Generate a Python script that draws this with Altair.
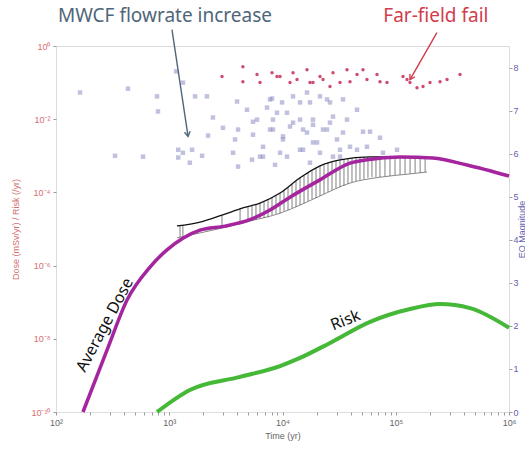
import altair as alt
import pandas as pd

# ---- Average dose (mSv/yr) ----
dose_time = [173, 282, 424, 676, 955, 1320, 1870, 3100, 5160, 7760, 11650,
             21400, 39500, 55700, 109000, 213000, 426000, 1000000]
dose_value = [1e-10, 4.9e-9, 1.15e-7, 9.1e-7, 2.7e-6, 5.6e-6, 9.3e-6, 1.2e-5,
              1.8e-5, 3.3e-5, 7.4e-5, 2.2e-4, 6.3e-4, 7.8e-4, 9.3e-4, 8.7e-4,
              5.6e-4, 2.8e-4]

# ---- Risk (/yr) ----
risk_time = [780, 1520, 4220, 9510, 14290, 26260, 59300, 133600, 246000,
             453000, 1000000]
risk_value = [1e-10, 4.0e-10, 9.1e-10, 1.8e-9, 3.0e-9, 7.7e-9, 2.9e-8,
              6.5e-8, 8.9e-8, 6.9e-8, 2.0e-8]

# ---- Realisation band (individual dose histories) ----
band_up_time = [1170, 1870, 2920, 4470, 6330, 9510, 14290, 21440, 32180,
                59300, 133800, 181700]
band_up_value = [1.21e-5, 1.55e-5, 2.4e-5, 3.75e-5, 5.1e-5, 9.6e-5, 2.5e-4,
                 5.3e-4, 7.7e-4, 9.3e-4, 9.3e-4, 8.7e-4]
band_lo_time = [1170, 1870, 2920, 5160, 9510, 14290, 21440, 39460, 72540,
                133800, 188800]
band_lo_value = [5.7e-6, 7.8e-6, 1.06e-5, 1.65e-5, 2.7e-5, 4.5e-5, 8.0e-5,
                 1.8e-4, 2.6e-4, 3.2e-4, 3.6e-4]

hatch_time = [1245, 1320, 2920, 4220, 4960, 5380, 5830, 6330, 6870, 7450,
              8080, 8760, 9510, 10310, 11190, 12140, 13160, 14290, 15490,
              16800, 18220, 19770, 21440, 23250, 25220, 27360, 29670, 32180,
              34900, 37860, 41070, 44540, 48310, 52400, 56840, 61650, 66870,
              72540, 80330, 88960, 98520, 109100, 120800, 133800, 148200,
              164100, 181700]
hatch_low = [6.0e-6, 6.4e-6, 1.06e-5, 1.37e-5, 1.55e-5, 1.65e-5, 1.76e-5,
             1.9e-5, 2.0e-5, 2.1e-5, 2.4e-5, 2.6e-5, 2.7e-5, 3.1e-5, 3.3e-5,
             3.75e-5, 4.0e-5, 4.5e-5, 5.1e-5, 5.8e-5, 6.6e-5, 7.0e-5, 8.0e-5,
             9.0e-5, 1.03e-4, 1.16e-4, 1.3e-4, 1.4e-4, 1.5e-4, 1.7e-4, 1.9e-4,
             2.05e-4, 2.2e-4, 2.3e-4, 2.5e-4, 2.6e-4, 2.6e-4, 2.6e-4, 2.8e-4,
             2.8e-4, 3.0e-4, 3.0e-4, 3.2e-4, 3.2e-4, 3.4e-4, 3.4e-4, 3.6e-4]
hatch_high = [1.25e-5, 1.29e-5, 2.4e-5, 3.5e-5, 4.2e-5, 4.5e-5, 4.8e-5,
              5.1e-5, 5.8e-5, 6.6e-5, 7.5e-5, 8.5e-5, 9.6e-5, 1.16e-4, 1.4e-4,
              1.7e-4, 2.05e-4, 2.5e-4, 2.8e-4, 3.4e-4, 3.8e-4, 4.6e-4, 5.3e-4,
              5.6e-4, 6.4e-4, 6.8e-4, 7.2e-4, 7.7e-4, 8.2e-4, 8.2e-4, 8.7e-4,
              8.7e-4, 8.7e-4, 9.3e-4, 9.3e-4, 9.3e-4, 9.3e-4, 9.3e-4, 9.3e-4,
              9.3e-4, 9.3e-4, 9.3e-4, 9.3e-4, 9.3e-4, 9.3e-4, 8.7e-4, 8.7e-4]

# ---- Earthquake events (time, magnitude) ----
eq_time = [163, 332, 432, 587, 780, 795, 1150, 1200, 1200, 1320, 1320, 1520,
           1590, 1690, 1950, 2150, 2200, 2430, 2980, 3660, 3810, 3970, 4050,
           4050, 4860, 5380, 5490, 5490, 5960, 6330, 6730, 6730, 7300, 7760,
           7760, 8080, 8240, 8240, 8590, 8940, 9510, 9910, 10100, 10100,
           10960, 10960, 11650, 12390, 12390, 14290, 14290, 14290, 15180,
           15180, 16450, 16450, 17490, 17490, 18590, 18590, 20180, 21440,
           21440, 22790, 24720, 24720, 26260, 26260, 27920, 27920, 30280,
           32180, 32180, 34210, 34210, 37120, 39460, 45500, 45500, 51400,
           55700, 59300, 72600, 77100, 102600, 18590]
eq_mag = [7.42, 5.95, 7.51, 5.93, 7.33, 6.98, 7.91, 6.09, 5.91, 7.65, 6.02,
          5.79, 6.09, 7.33, 5.95, 7.33, 6.42, 6.84, 6.60, 6.02, 6.33, 7.21,
          6.56, 5.70, 7.02, 5.86, 6.74, 6.44, 6.79, 5.93, 5.93, 6.16, 7.07,
          7.26, 6.56, 7.28, 6.56, 6.79, 5.74, 6.95, 6.02, 7.19, 6.40, 6.33,
          6.95, 5.93, 6.63, 6.72, 7.33, 7.19, 6.09, 6.79, 6.56, 6.09, 7.42,
          6.49, 5.79, 7.19, 6.67, 6.26, 6.26, 7.33, 6.02, 6.56, 6.56, 7.26,
          7.19, 6.72, 6.86, 5.93, 6.33, 6.09, 5.93, 7.26, 6.49, 6.79, 6.16,
          7.02, 6.09, 6.51, 6.16, 6.51, 6.37, 6.02, 6.09, 6.79]

# ---- Far-field failure events ----
ff_time = [2925, 4470, 4470, 5960, 6330, 8080, 8940, 9510, 11650, 12390,
           13440, 16450, 17490, 18590, 21440, 22790, 26260, 27920, 32180,
           37120, 39460, 45500, 51400, 55700, 68300, 72600, 83700, 115900,
           125700, 133600, 154100, 174100, 200600, 246000, 283700, 369400]
ff_mag = [7.79, 8.02, 7.67, 7.84, 7.65, 7.88, 7.79, 7.79, 7.65, 7.88, 7.72,
          7.95, 7.65, 7.65, 7.79, 7.72, 7.56, 7.88, 7.65, 7.95, 7.67, 7.84,
          7.95, 7.72, 7.84, 7.67, 7.65, 7.79, 7.72, 7.65, 7.53, 7.56, 7.65,
          7.67, 7.72, 7.84]

# ---- Annotations ----
note_text = ["MWCF flowrate increase", "Far-field fail"]
note_time = [916, 226000]
note_mag = [9.19, 9.19]
note_color = ["#4f6679", "#d23c4e"]
arrow_t0 = [1057, 231000]
arrow_m0 = [8.88, 8.81]
arrow_t1 = [1466, 133600]
arrow_m1 = [6.40, 7.72]
arrow_angle = [351, 30]

curve_text = ["Average Dose", "Risk"]
curve_time = [270, 36000]
curve_value = [2.4e-8, 3.2e-8]
curve_angle = [298, 338]

# ---- Axis ticks ----
x_decades = [100, 1000, 10000, 100000, 1000000]
x_ticks = [m * d for d in x_decades[:-1] for m in range(1, 10)] + [1000000]
y_ticks = [1e-10, 1e-8, 1e-6, 1e-4, 1e-2, 1]
mag_ticks = [0, 1, 2, 3, 4, 5, 6, 7, 8]

SUP = {"-": "\u207b", "0": "\u2070", "1": "\u00b9", "2": "\u00b2",
       "3": "\u00b3", "4": "\u2074", "5": "\u2075", "6": "\u2076",
       "7": "\u2077", "8": "\u2078", "9": "\u2079"}


def sup(n):
    return "10" + "".join(SUP[c] for c in str(n))


def power_label_expr(exps):
    e = "round(log(datum.value)/LN10)"
    expr = "''"
    for n in exps:
        expr = f"({e} == {n} ? '{sup(n)}' : {expr})"
    return expr


x_label_expr = (
    "abs(log(datum.value)/LN10 - round(log(datum.value)/LN10)) < 1e-6 ? "
    + power_label_expr([2, 3, 4, 5, 6]) + " : ''"
)
y_label_expr = power_label_expr([-10, -8, -6, -4, -2, 0])

FONT = "Liberation Sans"
ANN_FONT = "Noto Sans"

x_scale = alt.Scale(type="log", domain=[100, 1000000], nice=False)
y_scale = alt.Scale(type="log", domain=[1e-10, 1], nice=False)
m_scale = alt.Scale(domain=[0, 8.5], nice=False, zero=False)

x_axis = alt.Axis(values=x_ticks, labelExpr=x_label_expr, title="Time (yr)",
                  grid=False, domain=False, tickSize=3, tickColor="#9a9a9a",
                  labelColor="#666666", titleColor="#666666", labelFontSize=9,
                  titleFontSize=9, labelFont=FONT, titleFont=FONT,
                  titleFontWeight="normal", labelPadding=3, titlePadding=4,
                  labelFlush=False)
y_axis = alt.Axis(values=y_ticks, labelExpr=y_label_expr,
                  title="Dose (mSv/yr) / Risk (/yr)", grid=False, domain=False,
                  tickSize=3, tickColor="#9a9a9a", labelColor="#d47070",
                  titleColor="#d47070", labelFontSize=9, titleFontSize=9,
                  labelFont=FONT, titleFont=FONT, titleFontWeight="normal",
                  labelPadding=3, titlePadding=10)
m_axis = alt.Axis(values=mag_ticks, orient="right", title="EQ Magnitude",
                  grid=False, domain=False, tickSize=3, tickColor="#9a9a9a",
                  labelColor="#6262b0", titleColor="#6262b0", labelFontSize=9,
                  titleFontSize=9, labelFont=FONT, titleFont=FONT,
                  titleFontWeight="normal", labelPadding=1,
                  titleAngle=270, titleX=12, titleY=183,
                  titleAlign="center", titleBaseline="middle")

dose_df = pd.DataFrame({"time": dose_time, "value": dose_value})
risk_df = pd.DataFrame({"time": risk_time, "value": risk_value})
up_df = pd.DataFrame({"time": band_up_time, "value": band_up_value})
lo_df = pd.DataFrame({"time": band_lo_time, "value": band_lo_value})
hatch_df = pd.DataFrame({"time": hatch_time, "low": hatch_low,
                         "high": hatch_high})
eq_df = pd.DataFrame({"time": eq_time, "mag": eq_mag})
ff_df = pd.DataFrame({"time": ff_time, "mag": ff_mag})
note_df = pd.DataFrame({"text": note_text, "time": note_time,
                        "mag": note_mag, "color": note_color})
arrow_df = pd.DataFrame({"t0": arrow_t0, "m0": arrow_m0, "t1": arrow_t1,
                         "m1": arrow_m1, "angle": arrow_angle,
                         "color": note_color})
curve_df = pd.DataFrame({"text": curve_text, "time": curve_time,
                         "value": curve_value, "angle": curve_angle})

X = alt.X("time:Q", scale=x_scale, axis=x_axis)
Y_d = alt.Y("value:Q", scale=y_scale, axis=y_axis)

# Left (log) scale: dose, risk and realisation band
hatch = alt.Chart(hatch_df).mark_rule(color="#2a2a2a", strokeWidth=0.7,
                                      opacity=0.85).encode(
    x=X, y=alt.Y("low:Q", scale=y_scale, axis=y_axis), y2="high:Q")
upper = alt.Chart(up_df).mark_line(color="#111111", strokeWidth=1.3,
                                   interpolate="monotone").encode(x=X, y=Y_d)
lower = alt.Chart(lo_df).mark_line(color="#555555", strokeWidth=0.7,
                                   interpolate="monotone").encode(x=X, y=Y_d)
dose_line = alt.Chart(dose_df).mark_line(color="#a4259e", strokeWidth=3.5,
                                         interpolate="monotone").encode(
    x=X, y=Y_d)
risk_line = alt.Chart(risk_df).mark_line(color="#45b838", strokeWidth=4,
                                         interpolate="monotone").encode(
    x=X, y=Y_d)
curve_labels = alt.Chart(curve_df).mark_text(
    font=ANN_FONT, fontSize=16, color="#111111", align="center",
    baseline="middle").encode(
    x=X, y=Y_d, text="text:N", angle=alt.Angle("angle:Q", scale=None))

left = alt.layer(hatch, lower, upper, dose_line, risk_line, curve_labels)

# Right (linear) scale: earthquake events and annotations
Y_m = alt.Y("mag:Q", scale=m_scale, axis=m_axis)
eq_pts = alt.Chart(eq_df).mark_point(shape="square", filled=True, size=20,
                                     color="#8d8dc4", opacity=0.55).encode(
    x=X, y=Y_m)
ff_pts = alt.Chart(ff_df).mark_point(shape="circle", filled=True, size=12,
                                     color="#c21f4c", opacity=0.8).encode(
    x=X, y=Y_m)
arrows = alt.Chart(arrow_df).mark_rule(strokeWidth=1.4).encode(
    x=alt.X("t0:Q", scale=x_scale, axis=x_axis),
    x2="t1:Q",
    y=alt.Y("m0:Q", scale=m_scale, axis=m_axis),
    y2="m1:Q",
    color=alt.Color("color:N", scale=None))
heads = alt.Chart(arrow_df).mark_point(
    shape="M-0.6,-1L0,0L0.6,-1", filled=False, size=90, strokeWidth=1.4,
    opacity=1).encode(
    x=alt.X("t1:Q", scale=x_scale, axis=x_axis),
    y=alt.Y("m1:Q", scale=m_scale, axis=m_axis),
    angle=alt.Angle("angle:Q", scale=None),
    color=alt.Color("color:N", scale=None))
notes = alt.Chart(note_df).mark_text(font=ANN_FONT, fontSize=19,
                                     align="center", baseline="middle").encode(
    x=X, y=Y_m, text="text:N", color=alt.Color("color:N", scale=None))

right = alt.layer(eq_pts, ff_pts, arrows, heads, notes)

chart = alt.layer(left, right).resolve_scale(y="independent").properties(
    width=453, height=366,
    padding={"left": 56, "top": 46, "right": 16, "bottom": 38},
    autosize=alt.AutoSizeParams(type="none"),
).configure_view(stroke="#9a9a9a", strokeWidth=1).configure(
    background="white")

chart.save("out.html", embed_options={"renderer": "svg", "actions": False})
